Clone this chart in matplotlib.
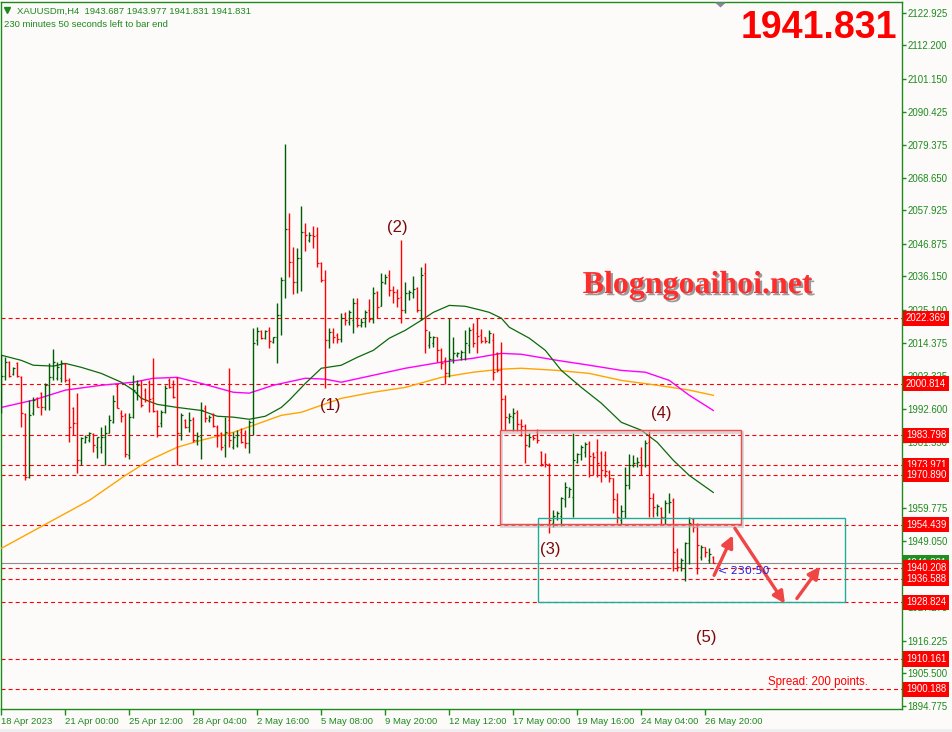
import numpy as np
import matplotlib
matplotlib.use('Agg')
import matplotlib.pyplot as plt
from matplotlib.patches import Rectangle, Polygon
from matplotlib.lines import Line2D
import matplotlib.transforms as mtransforms
import matplotlib.patheffects as pe

plt.rcParams['font.family'] = ['Liberation Sans', 'DejaVu Sans']
plt.rcParams['lines.scale_dashes'] = False

# ---------------- data ----------------
symbol = "XAUUSDm,H4"
header_ohlc = ["1943.687", "1943.977", "1941.831", "1941.831"]
timer_text = "230 minutes 50 seconds left to bar end"

opens = [2000.9, 2003.3, 2007.9, 2003.9, 2007.5, 2002.9, 1990.7, 1970.0, 1991.1, 1996.0,
         1997.7, 1993.0, 2000.3, 2002.9, 2002.6, 2002.6, 2007.2, 2001.9, 1992.7, 1987.8,
         1975.6, 1981.5, 1982.2, 1984.2, 1979.9, 1979.9, 1983.2, 1984.5, 1988.1, 1999.9,
         1991.1, 1990.4, 1977.2, 1989.8, 1998.0, 2000.3, 1998.7, 2001.3, 1996.0, 1991.7,
         1987.8, 1991.4, 2001.9, 1999.6, 2002.6, 1984.5, 1988.8, 1986.5, 1989.1, 1982.2,
         1983.2, 1992.7, 1988.8, 1990.4, 1986.5, 1984.5, 1980.5, 1988.8, 1979.9, 1980.5,
         1984.8, 1984.5, 1981.2, 1988.1, 2015.1, 2018.1, 2015.8, 2018.4, 2014.5, 2016.1,
         2023.4, 2034.9, 2051.7, 2040.8, 2034.2, 2042.1, 2050.7, 2048.1, 2049.7, 2049.7,
         2040.5, 2034.9, 2015.1, 2017.8, 2016.8, 2015.4, 2023.7, 2021.0, 2021.7, 2027.3,
         2020.1, 2021.0, 2025.0, 2022.0, 2030.9, 2026.3, 2033.9, 2036.5, 2031.6, 2030.9,
         2029.3, 2025.0, 2030.6, 2030.6, 2032.3, 2025.0, 2037.2, 2013.5, 2014.1, 2016.1,
         2011.8, 2008.5, 2004.2, 2008.8, 2010.2, 2009.5, 2011.2, 2013.5, 2018.8, 2017.5,
         2016.8, 2016.1, 2014.5, 2015.1, 2010.8, 2005.2, 1995.7, 1989.4, 1989.8, 1991.4,
         1987.5, 1986.8, 1980.2, 1983.5, 1984.8, 1978.2, 1974.9, 1974.3, 1955.1, 1956.5,
         1957.1, 1962.7, 1963.4, 1963.4, 1974.9, 1977.6, 1978.2, 1981.2, 1977.6, 1978.2,
         1977.9, 1977.2, 1971.6, 1969.7, 1962.4, 1955.8, 1958.8, 1967.3, 1973.9, 1974.6,
         1976.6, 1973.9, 1981.5, 1963.1, 1958.1, 1959.8, 1956.8, 1961.4, 1962.4, 1945.9,
         1940.3, 1940.0, 1948.2, 1956.1, 1953.5, 1943.6, 1946.9, 1942.6, 1943.687]
highs = [2010.2, 2009.5, 2008.2, 2006.2, 2007.9, 2003.3, 1991.1, 1995.4, 1996.4, 1996.4,
         1998.0, 2000.9, 2007.5, 2012.1, 2007.9, 2008.5, 2007.5, 2002.6, 1993.0, 1997.7,
         1983.2, 1983.8, 1984.8, 1984.5, 1983.2, 1986.5, 1987.1, 1990.4, 1997.0, 2000.6,
         1992.0, 1991.1, 1991.1, 2003.6, 2001.9, 2001.9, 1999.3, 2001.9, 2009.2, 1992.0,
         1992.0, 2000.3, 2002.6, 2001.9, 2002.9, 1991.1, 1989.1, 1991.4, 1989.8, 1984.8,
         1994.7, 1993.7, 1990.4, 1991.1, 1987.1, 1984.8, 1989.8, 2005.9, 1984.8, 1985.5,
         1986.1, 1985.5, 1988.8, 2019.1, 2019.4, 2018.4, 2018.4, 2019.4, 2016.1, 2027.3,
         2035.9, 2079.7, 2057.0, 2045.8, 2045.4, 2059.3, 2053.7, 2050.7, 2052.7, 2052.4,
         2040.8, 2038.2, 2019.1, 2019.1, 2017.5, 2024.0, 2024.3, 2025.0, 2029.0, 2029.0,
         2022.4, 2025.0, 2028.6, 2032.6, 2031.3, 2037.2, 2036.9, 2038.2, 2032.9, 2031.9,
         2048.1, 2034.2, 2031.6, 2036.2, 2032.6, 2039.2, 2040.5, 2018.1, 2016.4, 2016.1,
         2012.5, 2009.5, 2022.4, 2016.1, 2011.2, 2011.8, 2018.4, 2019.4, 2020.7, 2022.4,
         2018.8, 2016.1, 2018.4, 2017.5, 2011.2, 2014.5, 1997.0, 1991.1, 1992.7, 1992.0,
         1989.1, 1987.5, 1984.5, 1983.8, 1985.8, 1978.6, 1977.9, 1974.6, 1959.1, 1958.8,
         1963.4, 1968.3, 1966.7, 1984.5, 1977.9, 1980.5, 1981.5, 1981.9, 1978.2, 1982.5,
         1978.6, 1978.6, 1972.3, 1969.7, 1964.7, 1960.8, 1973.3, 1977.6, 1977.2, 1976.6,
         1979.9, 1982.2, 1985.2, 1964.7, 1961.1, 1960.1, 1962.4, 1964.7, 1963.1, 1946.6,
         1943.3, 1948.6, 1956.8, 1956.5, 1954.8, 1947.6, 1947.2, 1946.6, 1943.977]
lows = [1991.1, 2001.9, 2002.9, 2003.6, 2002.9, 1986.5, 1969.0, 1969.7, 1990.4, 1993.0,
        1990.4, 1992.0, 1992.0, 2001.9, 2001.9, 2001.3, 2001.3, 1981.5, 1983.8, 1971.3,
        1974.0, 1981.2, 1981.5, 1978.2, 1976.2, 1977.9, 1974.0, 1984.5, 1987.8, 1992.7,
        1988.1, 1976.6, 1975.9, 1989.4, 1995.4, 1993.0, 1994.7, 1991.4, 1991.4, 1983.2,
        1986.5, 1991.1, 1999.3, 1996.0, 1974.0, 1982.2, 1986.1, 1984.8, 1981.5, 1980.5,
        1975.9, 1988.1, 1988.1, 1986.5, 1979.9, 1978.9, 1976.6, 1979.9, 1979.2, 1979.9,
        1981.2, 1979.6, 1977.9, 1983.8, 2013.5, 2015.4, 2015.4, 2012.5, 2014.1, 2007.5,
        2016.8, 2029.0, 2035.9, 2030.3, 2030.6, 2031.3, 2044.4, 2047.4, 2045.4, 2039.2,
        2034.2, 1999.3, 2012.5, 2014.1, 2014.1, 2014.5, 2020.1, 2020.1, 2017.5, 2019.4,
        2019.4, 2019.4, 2021.0, 2020.7, 2022.4, 2026.3, 2033.6, 2029.6, 2027.3, 2026.0,
        2020.7, 2024.0, 2028.3, 2029.0, 2024.3, 2021.7, 2010.8, 2012.5, 2012.8, 2007.9,
        2005.6, 2000.6, 2002.9, 2007.5, 2009.5, 2008.5, 2008.5, 2010.8, 2012.8, 2010.8,
        2014.1, 2014.1, 2014.1, 2001.9, 2004.6, 1985.5, 1985.5, 1987.8, 1985.2, 1985.2,
        1983.5, 1974.6, 1979.9, 1982.2, 1981.2, 1973.6, 1973.3, 1951.5, 1953.5, 1955.8,
        1953.8, 1960.1, 1963.4, 1956.8, 1974.6, 1975.6, 1976.6, 1970.0, 1970.6, 1970.0,
        1968.3, 1970.0, 1968.3, 1958.1, 1955.1, 1954.5, 1956.5, 1966.3, 1973.3, 1973.3,
        1970.6, 1973.3, 1956.8, 1956.8, 1957.1, 1954.5, 1954.5, 1958.1, 1939.3, 1939.3,
        1939.3, 1936.0, 1941.6, 1951.9, 1938.3, 1942.6, 1943.9, 1941.9, 1941.831]
closes = [2003.3, 2007.9, 2003.3, 2005.9, 2003.3, 1991.1, 1970.0, 1990.4, 1995.4, 1993.0,
          1993.0, 2000.3, 2002.9, 2007.9, 2006.2, 2007.5, 2001.9, 1986.5, 1987.8, 1975.6,
          1982.8, 1983.2, 1984.5, 1980.5, 1983.2, 1983.2, 1984.5, 1988.8, 1995.0, 1992.7,
          1990.1, 1977.6, 1989.8, 1998.7, 2000.3, 1993.7, 1995.4, 1995.7, 1991.7, 1986.8,
          1991.4, 1999.3, 1999.6, 1996.4, 1984.5, 1990.4, 1986.5, 1988.8, 1982.2, 1983.5,
          1992.0, 1989.4, 1989.8, 1986.8, 1983.8, 1979.9, 1984.8, 1982.2, 1983.2, 1983.8,
          1981.5, 1981.2, 1988.1, 2014.1, 2018.1, 2015.8, 2018.1, 2014.8, 2016.1, 2023.4,
          2034.9, 2051.7, 2040.8, 2034.2, 2042.1, 2050.7, 2049.7, 2049.7, 2049.4, 2040.5,
          2034.9, 2015.1, 2017.8, 2016.1, 2015.4, 2022.4, 2021.7, 2024.3, 2027.3, 2020.1,
          2021.0, 2024.3, 2022.0, 2030.6, 2026.0, 2034.2, 2035.9, 2031.6, 2030.9, 2029.0,
          2025.0, 2030.6, 2030.9, 2031.9, 2025.0, 2036.5, 2018.4, 2016.1, 2016.1, 2011.8,
          2007.5, 2004.2, 2008.8, 2010.8, 2010.8, 2011.2, 2014.1, 2018.4, 2014.1, 2016.4,
          2014.8, 2014.8, 2017.5, 2004.6, 2005.2, 1995.7, 1989.8, 1990.1, 1991.1, 1987.5,
          1986.8, 1980.5, 1983.2, 1982.8, 1982.2, 1974.3, 1974.3, 1955.8, 1957.1, 1958.1,
          1963.1, 1966.7, 1966.3, 1975.6, 1977.6, 1979.9, 1980.9, 1976.9, 1976.6, 1974.6,
          1972.3, 1972.0, 1969.7, 1962.7, 1956.8, 1958.8, 1967.3, 1973.9, 1974.6, 1974.9,
          1973.9, 1981.2, 1963.1, 1960.1, 1960.4, 1956.8, 1961.4, 1961.7, 1945.3, 1940.3,
          1942.6, 1948.2, 1954.8, 1953.5, 1947.6, 1946.9, 1945.3, 1944.9, 1941.831]

ma_green_bars = [0, 5, 8, 13, 16, 20, 25, 30, 33, 35, 39, 44, 50, 54, 58, 62, 66, 70, 72, 76,
                 80, 85, 89, 93, 97, 101, 105, 108, 112, 116, 120, 122, 125, 127, 132, 136,
                 140, 145, 150, 155, 160, 164, 168, 172, 178]
ma_green_vals = [2010.2, 2008.5, 2006.9, 2006.6, 2007.5, 2006.2, 2004.2, 2001.3, 1998.7, 1996.0,
                 1994.0, 1993.0, 1992.0, 1990.1, 1989.8, 1989.1, 1990.1, 1993.0, 1995.4, 2000.9,
                 2005.9, 2006.9, 2009.5, 2011.8, 2015.8, 2018.4, 2021.7, 2024.3, 2026.6, 2026.3,
                 2025.0, 2024.3, 2022.4, 2019.4, 2015.8, 2011.8, 2005.2, 1999.6, 1994.4, 1988.1,
                 1985.5, 1981.5, 1975.6, 1970.6, 1965.0]
ma_magenta_bars = [0, 8, 16, 25, 33, 38, 44, 50, 58, 62, 68, 76, 81, 85, 93, 101, 110, 118,
                   125, 130, 139, 147, 155, 161, 167, 172, 178]
ma_magenta_vals = [1993.0, 1995.4, 1998.7, 2000.3, 2001.3, 2002.6, 2002.9, 2000.9, 1998.0,
                   1997.7, 2000.3, 2002.6, 2002.3, 2001.3, 2003.6, 2005.9, 2007.9, 2009.2,
                   2010.8, 2010.5, 2008.5, 2006.9, 2005.2, 2004.6, 2001.9, 1997.0, 1992.0]
ma_orange_bars = [0, 11, 22, 31, 37, 44, 50, 58, 63, 70, 75, 85, 93, 101, 110, 118, 125, 130,
                  139, 147, 155, 164, 172, 178]
ma_orange_vals = [1946.6, 1954.5, 1962.4, 1970.6, 1975.6, 1979.9, 1982.2, 1984.8, 1987.1,
                  1990.4, 1991.4, 1996.0, 1998.0, 1999.6, 2002.9, 2004.6, 2005.6, 2005.9,
                  2005.2, 2004.2, 2001.9, 2000.3, 1998.7, 1997.0]

x_tick_bars = [0, 16, 32, 48, 64, 80, 96, 112, 128, 144, 160, 176]
x_tick_labels = ["18 Apr 2023", "21 Apr 00:00", "25 Apr 12:00", "28 Apr 04:00", "2 May 16:00",
                 "5 May 08:00", "9 May 20:00", "12 May 12:00", "17 May 00:00", "19 May 16:00",
                 "24 May 04:00", "26 May 20:00"]
y_tick_values = [2122.925, 2112.200, 2101.150, 2090.425, 2079.375, 2068.650, 2057.925,
                 2046.875, 2036.150, 2025.100, 2014.375, 2003.325, 1992.600, 1981.550,
                 1970.825, 1959.775, 1949.050, 1938.000, 1927.275, 1916.225, 1905.500,
                 1894.775]

levels = [2022.369, 2000.814, 1983.798, 1973.971, 1970.890, 1954.439, 1940.208,
          1936.588, 1928.824, 1910.161, 1900.188]
bid = 1941.831

red_box = [124.7, 184.9, 1954.5, 1985.5]     # start bar, end bar, low, high
teal_box = [134.2, 210.9, 1928.8, 1956.5]

wave_texts = ["(1)", "(2)", "(3)", "(4)", "(5)"]
wave_bars = [82.2, 99.0, 137.2, 164.9, 176.2]
wave_prices = [1993.7, 2052.4, 1946.3, 1991.1, 1917.3]

arrow_from_bar = [178.2, 183.4, 198.9]
arrow_from_price = [1937.7, 1953.2, 1930.1]
arrow_to_bar = [182.9, 195.9, 204.7]
arrow_to_price = [1950.9, 1928.4, 1940.6]

timer_label = "< 230:50"
spread_text = "Spread: 200 points."
brand_text = "Blogngoaihoi.net"

# ---------------- styling ----------------
W, H = 953, 732
BG = '#fdfafa'
AXC = '#1c8a1c'
BULL = '#005c00'
BEAR = '#ff0000'

fig = plt.figure(figsize=(W / 100, H / 100), dpi=100)
fig.patch.set_facecolor(BG)

def fx(px):
    return px / W

def fy(py):
    return 1 - py / H

L, R, T, B = 1, 902, 2, 709
ax = fig.add_axes([fx(L), fy(B), (R - L) / W, (B - T) / H])
ax.set_facecolor(BG)
ax.set_xlim(-0.075, 225.175)
ax.set_ylim(1893.7, 2126.5)

for s in ax.spines.values():
    s.set_color(AXC)
    s.set_linewidth(1.0)

# levels (dashed)
for v in levels:
    ax.axhline(v, color='#ff0000', lw=0.8, dashes=(2.9, 2.2), zorder=2)
ax.axhline(bid, color='#8c8c8c', lw=0.8, zorder=2)

# moving averages
ax.plot(ma_orange_bars, ma_orange_vals, color='#ffa500', lw=1.0, zorder=3)
ax.plot(ma_magenta_bars, ma_magenta_vals, color='#ff00ff', lw=1.0, zorder=3)
ax.plot(ma_green_bars, ma_green_vals, color='#0a6a0a', lw=0.9, zorder=3)

# OHLC bars
o = np.array(opens); h = np.array(highs); l = np.array(lows); c = np.array(closes)
idx = np.arange(len(o))
up = c >= o
for mask, col in ((up, BULL), (~up, BEAR)):
    ax.vlines(idx[mask], l[mask], h[mask], colors=col, lw=1.0, zorder=4)
    ax.hlines(o[mask], idx[mask] - 0.3, idx[mask], colors=col, lw=0.9, zorder=4)
    ax.hlines(c[mask], idx[mask], idx[mask] + 0.3, colors=col, lw=0.9, zorder=4)

# zones
rx0, rx1, ry0, ry1 = red_box
ax.add_patch(Rectangle((rx0 + 0.2, ry0 - 0.5), rx1 - rx0, ry1 - ry0, fill=False,
                       ec='#bdbdbd', lw=2.0, alpha=0.6, zorder=4))
ax.add_patch(Rectangle((rx0, ry0), rx1 - rx0, ry1 - ry0, fill=False, ec='#f24a4a', lw=1.0, zorder=5))
tx0, tx1, ty0, ty1 = teal_box
ax.add_patch(Rectangle((tx0, ty0), tx1 - tx0, ty1 - ty0, fill=False, ec='#1fae95', lw=1.0, zorder=5))

# arrows
for xs, ys, xe, ye in zip(arrow_from_bar, arrow_from_price, arrow_to_bar, arrow_to_price):
    ax.annotate('', xy=(xe, ye), xytext=(xs, ys),
                arrowprops=dict(arrowstyle='-|>,head_length=0.7,head_width=0.35', color='#f04545',
                                lw=2.4, shrinkA=0, shrinkB=0, mutation_scale=10), zorder=6)

# wave labels
for t, xb, yp in zip(wave_texts, wave_bars, wave_prices):
    ax.text(xb, yp, t, color='#7a0a0a', fontsize=12, ha='center', va='center', zorder=6)

ax.text(179.2, 1938.0, timer_label, color='#2222dd', fontsize=8,
        family=['DejaVu Sans'], ha='left', va='baseline', zorder=6)

# axes ticks
ax.yaxis.tick_right()
ax.set_yticks(y_tick_values)
ax.set_yticklabels([f'{v:.3f}' for v in y_tick_values])
ax.tick_params(axis='y', which='both', right=True, left=False, labelright=True, labelleft=False,
               direction='out', length=3, width=1, color=AXC, labelcolor=AXC,
               labelsize=6.9, pad=1)
ax.set_xticks(x_tick_bars)
ax.set_xticklabels(x_tick_labels)
ax.tick_params(axis='x', direction='out', length=4, width=1, color=AXC, labelcolor=AXC,
               labelsize=6.8, pad=1.5)
for lbl in ax.get_xticklabels():
    lbl.set_ha('left')

# price labels on the right
trans = mtransforms.blended_transform_factory(ax.transAxes, ax.transData)
lx = (906 - L) / (R - L)
ax.text(lx, bid, f'{bid:.3f}', transform=trans, color='white', fontsize=6.9,
        ha='left', va='center', clip_on=False, zorder=9,
        bbox=dict(boxstyle='square,pad=0.28', fc='#1f8f1f', ec='none'))
for v in levels:
    ax.text(lx, v, f'{v:.3f}', transform=trans, color='white', fontsize=6.9,
            ha='left', va='center', clip_on=False, zorder=10,
            bbox=dict(boxstyle='square,pad=0.28', fc='#ff0000', ec='none'))

# header texts
fig.add_artist(Line2D([fx(7)], [fy(9.5)], marker='v', markersize=5, color=AXC,
                      transform=fig.transFigure, linestyle='none'))
fig.text(fx(17), fy(13.5), symbol + "  " + " ".join(header_ohlc), color=AXC,
         fontsize=6.8, ha='left', va='baseline')
fig.text(fx(4), fy(27.3), timer_text, color=AXC, fontsize=6.8, ha='left', va='baseline')
fig.add_artist(Polygon([(fx(715), fy(2.5)), (fx(726), fy(2.5)), (fx(720.5), fy(7.5))],
                       closed=True, fc='#808a96', ec='none', transform=fig.transFigure))

fig.text(fx(897), fy(38.5), f'{bid:.3f}', color='#ff0000', fontsize=27, fontweight='bold',
         ha='right', va='baseline')

fig.text(fx(698), fy(293), brand_text, color='#ff2e2e', fontsize=23, fontweight='bold',
         family=['Liberation Serif'], ha='center', va='baseline',
         path_effects=[pe.SimplePatchShadow(offset=(1.6, -1.6), shadow_rgbFace='#7a7a7a', alpha=0.75),
                       pe.Normal()])

fig.text(fx(768), fy(685), spread_text, color='#ff0000', fontsize=8.3, ha='left', va='baseline')

fig.add_artist(Rectangle((0, 0), 1, fy(729), fc='#efefef', ec='none', transform=fig.transFigure))

fig.savefig('out.png', dpi=100, facecolor=BG)
